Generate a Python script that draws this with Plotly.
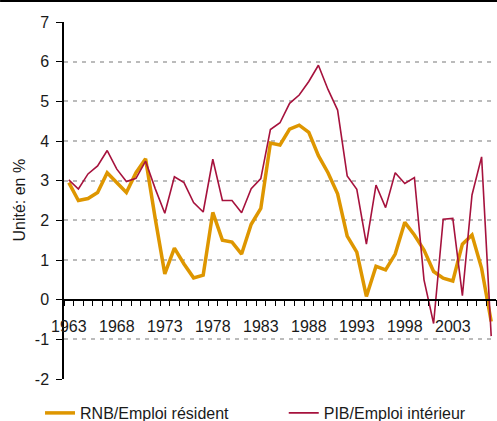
import plotly.graph_objects as go

years = list(range(1963, 2008))

rnb_emploi_resident = [
    2.95, 2.5, 2.55, 2.7, 3.2, 2.95, 2.7, 3.2, 3.55, 2.05,
    0.65, 1.3, 0.9, 0.55, 0.62, 2.2, 1.5, 1.45, 1.15, 1.9,
    2.3, 3.95, 3.9, 4.3, 4.4, 4.22, 3.63, 3.2, 2.67, 1.6,
    1.2, 0.08, 0.84, 0.75, 1.15, 1.95, 1.63, 1.25, 0.71, 0.54,
    0.47, 1.4, 1.63, 0.79, -0.55,
]

pib_emploi_interieur = [
    3.02, 2.79, 3.17, 3.37, 3.76, 3.29, 2.98, 3.06, 3.49, 2.8,
    2.18, 3.1, 2.95, 2.45, 2.21, 3.54, 2.5, 2.5, 2.19, 2.8,
    3.05, 4.29, 4.46, 4.95, 5.16, 5.5, 5.91, 5.3, 4.78, 3.12,
    2.78, 1.4, 2.89, 2.32, 3.2, 2.93, 3.08, 0.5, -0.6, 2.03,
    2.05, 0.1, 2.64, 3.6, -0.92,
]

x_tick_vals = list(range(1963, 2008, 5))
x_tick_labels = [str(y) for y in x_tick_vals]
y_tick_vals = list(range(-2, 8))
y_tick_labels = [str(v) for v in y_tick_vals]  # plain hyphen minus

ORANGE = "#DE9600"
RED = "#A6123D"
FONT = "Liberation Sans, Arial, sans-serif"

W, H = 497, 421
L, R, T, B = 64, 0.5, 22, 42
PW = W - L - R
PH = H - T - B

fig = go.Figure()
fig.add_trace(go.Scatter(
    x=years, y=rnb_emploi_resident, mode="lines",
    name="RNB/Emploi résident", legend="legend",
    line=dict(color=ORANGE, width=3.5),
))
fig.add_trace(go.Scatter(
    x=years, y=pib_emploi_interieur, mode="lines",
    name="PIB/Emploi intérieur", legend="legend2",
    line=dict(color=RED, width=1.6),
))

legend_y = -(396 - (T + PH)) / PH

fig.update_layout(
    width=W, height=H,
    margin=dict(l=L, r=R, t=T, b=B, pad=0, autoexpand=False),
    paper_bgcolor="white", plot_bgcolor="white",
    font=dict(family=FONT, size=16, color="#1a1a1a"),
    showlegend=True,
    legend=dict(
        orientation="h", x=(40 - L) / PW, xanchor="left", y=legend_y, yanchor="top",
        font=dict(size=16), bgcolor="rgba(0,0,0,0)",
    ),
    legend2=dict(
        orientation="h", x=(284 - L) / PW, xanchor="left", y=legend_y, yanchor="top",
        font=dict(size=16), bgcolor="rgba(0,0,0,0)",
    ),
    xaxis=dict(
        range=[1962.5, 2007.5], anchor="free", position=2 / 9,
        showline=True, linecolor="black", linewidth=1.5,
        showgrid=False, zeroline=False,
        tickmode="array", tickvals=x_tick_vals, ticktext=x_tick_labels,
        ticks="outside", ticklen=12, tickcolor="rgba(0,0,0,0)",
        tickfont=dict(size=16),
        minor=dict(ticks="outside", ticklen=6, tickcolor="black", tickwidth=1.2,
                   tick0=1962.5, dtick=1, showgrid=False),
        fixedrange=True,
    ),
    yaxis=dict(
        range=[-2, 7], tickmode="array", tickvals=y_tick_vals, ticktext=y_tick_labels,
        showline=True, linecolor="black", linewidth=1.5,
        ticks="outside", ticklen=6, tickcolor="black", tickwidth=1.2,
        showgrid=True, gridcolor="#BBBBBB", gridwidth=2, griddash="4px,5px",
        zeroline=False, tickfont=dict(size=16), ticklabelstandoff=4,
        fixedrange=True,
    ),
    annotations=[dict(
        text="Unité: en %", xref="paper", yref="paper",
        x=(19 - L) / PW, y=0.5, xanchor="center", yanchor="middle",
        textangle=-90, showarrow=False, font=dict(size=16),
    )],
    shapes=[dict(
        type="line", xref="paper", yref="paper",
        x0=-L / PW, x1=1 + 1 / PW, y0=1 + (T - 1) / PH, y1=1 + (T - 1) / PH,
        line=dict(color="black", width=2),
    )],
)

fig.write_html(
    "out.html",
    config={"displayModeBar": False},
    post_script="document.body.style.margin='0';document.body.style.overflow='hidden';",
)
